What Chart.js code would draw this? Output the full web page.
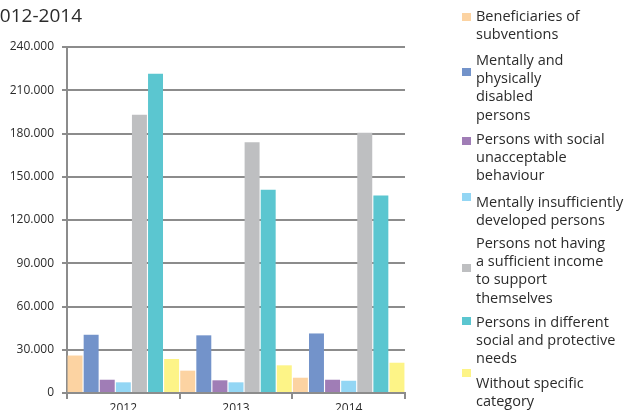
<!DOCTYPE html>
<html>
<head>
<meta charset="utf-8">
<script src="https://cdn.jsdelivr.net/npm/chart.js@4"></script>
<style>
    html, body { margin: 0; padding: 0; background: #fff; }
    #wrap { position: relative; width: 628px; height: 410px; overflow: hidden; font-family: 'Open Sans', sans-serif; color: #2b2b2b; }
    #chart-title { position: absolute; left: -11px; top: 2px; font-size: 19px; white-space: nowrap; }
    #legend { position: absolute; left: 0; top: 0; width: 628px; height: 410px; }
    .item { position: absolute; left: 462px; font-size: 14.5px; line-height: 18.2px; }
    .item .box { position: absolute; left: 0; width: 9px; height: 8px; }
    .item .txt { position: absolute; left: 14px; white-space: nowrap; }
</style>
</head>
<body>
<div id="wrap">
    <canvas id="bar-chart" width="628" height="420"></canvas>
    <div id="chart-title">2012-2014</div>
    <div id="legend"></div>
</div>
<script>
const years = ["2012", "2013", "2014"];

const seriesNames = [
    ["Beneficiaries of", "subventions"],
    ["Mentally and", "physically", "disabled", "persons"],
    ["Persons with social", "unacceptable", "behaviour"],
    ["Mentally insufficiently", "developed persons"],
    ["Persons not having", "a sufficient income", "to support", "themselves"],
    ["Persons in different", "social and protective", "needs"],
    ["Without specific", "category"]
];

const beneficiaries = [26000, 15500, 10600];
const disabled = [40400, 40000, 41300];
const socialBehaviour = [9200, 8800, 9200];
const insufficientlyDeveloped = [7400, 7400, 8500];
const noIncome = [193000, 174000, 180500];
const protectiveNeeds = [221500, 141000, 137000];
const noCategory = [23600, 19200, 21000];

const yTicks = [0, 30000, 60000, 90000, 120000, 150000, 180000, 210000, 240000];

const seriesColors = ["#FCD3A2", "#7393CA", "#A07DB6", "#93D6F4", "#BEBFC1", "#5BC6D0", "#FDF487"];

// legend placement (first line top, box top), px
const legendSpots = [
    [7, 13], [51, 68], [130, 137], [193, 193], [234, 264], [313, 317], [374, 369]
];

const values = [beneficiaries, disabled, socialBehaviour, insufficientlyDeveloped, noIncome, protectiveNeeds, noCategory];

const gridColor = "#8c8c8c";
const tickFont = { family: "'Open Sans', sans-serif", size: 12 };

const data = {
    labels: years,
    datasets: values.map((vals, i) => ({
        label: seriesNames[i].join(" "),
        data: vals,
        backgroundColor: seriesColors[i],
        borderWidth: 0,
        barPercentage: 0.93,
        categoryPercentage: 1
    }))
};

const config = {
    type: 'bar',
    data: data,
    options: {
        responsive: false,
        animation: false,
        devicePixelRatio: 1,
        layout: {
            padding: { left: 0, right: 223, top: 47, bottom: 0 }
        },
        plugins: {
            legend: { display: false },
            title: { display: false },
            tooltip: { enabled: false }
        },
        scales: {
            x: {
                grid: {
                    offset: true,
                    drawOnChartArea: false,
                    drawTicks: true,
                    tickLength: 6,
                    color: gridColor,
                    lineWidth: 2
                },
                border: { display: true, color: gridColor, width: 2 },
                ticks: { color: '#2b2b2b', font: tickFont, padding: 2 },
                afterFit: (scale) => { scale.height = 27; }
            },
            y: {
                min: 0,
                max: 240000,
                afterBuildTicks: (scale) => {
                    scale.ticks = yTicks.map(v => ({ value: v }));
                },
                grid: {
                    color: gridColor,
                    lineWidth: 2,
                    drawTicks: true,
                    tickLength: 5
                },
                border: { display: true, color: gridColor, width: 2 },
                ticks: {
                    color: '#2b2b2b',
                    font: tickFont,
                    padding: 8,
                    callback: (v) => v.toLocaleString('de-DE')
                },
                afterFit: (scale) => { scale.width = 67; }
            }
        }
    }
};

new Chart(document.getElementById('bar-chart'), config);

// legend on the right, multi-line labels like the original
const legend = document.getElementById('legend');
seriesNames.forEach((lines, i) => {
    const item = document.createElement('div');
    item.className = 'item';
    item.style.top = legendSpots[i][0] + 'px';
    const box = document.createElement('div');
    box.className = 'box';
    box.style.background = seriesColors[i];
    box.style.top = (legendSpots[i][1] - legendSpots[i][0]) + 'px';
    const txt = document.createElement('div');
    txt.className = 'txt';
    txt.innerHTML = lines.join('<br>');
    item.appendChild(box);
    item.appendChild(txt);
    legend.appendChild(item);
});
</script>
</body>
</html>
